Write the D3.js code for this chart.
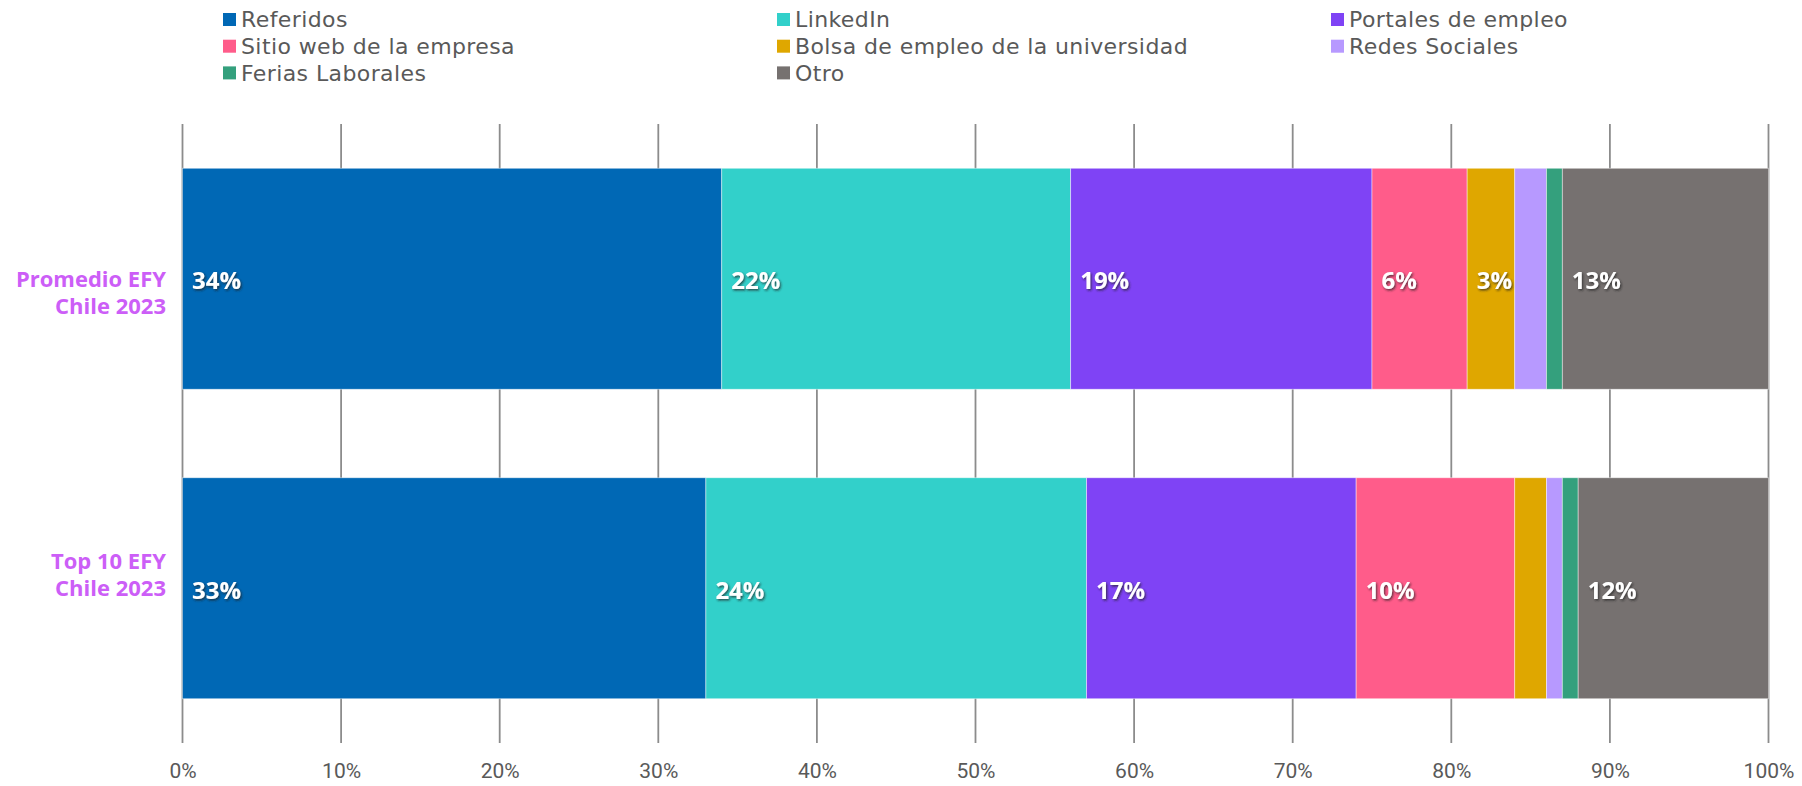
<!DOCTYPE html>
<html>
<head>
<meta charset="utf-8">
<script src="https://d3js.org/d3.v7.min.js"></script>
<style>
  body { margin: 0; background: #fff; }
  text { font-family: "Open Sans", sans-serif; }
</style>
</head>
<body>
<script>
// data
var categories = ['Promedio EFY Chile 2023', 'Top 10 EFY Chile 2023'];
var categoryLines = [['Promedio EFY', 'Chile 2023'], ['Top 10 EFY', 'Chile 2023']];
var seriesNames = ['Referidos', 'LinkedIn', 'Portales de empleo', 'Sitio web de la empresa',
  'Bolsa de empleo de la universidad', 'Redes Sociales', 'Ferias Laborales', 'Otro'];
var promedioValues = [34, 22, 19, 6, 3, 2, 1, 13];
var top10Values = [33, 24, 17, 10, 2, 1, 1, 12];
var seriesColors = ['#0068b5', '#32d0ca', '#7f43f5', '#ff5c8a', '#dfa700', '#b799ff', '#34a07d', '#767170'];
var xTickValues = [0, 10, 20, 30, 40, 50, 60, 70, 80, 90, 100];

var width = 1802,
    height = 786;

var plotLeft = 182.5, plotRight = 1768.5, plotTop = 124, plotBottom = 743;

var svg = d3.select('body').append('svg')
    .attr('width', width)
    .attr('height', height);

var defs = svg.append('defs');
defs.append('filter')
    .attr('id', 'shadow')
    .attr('x', '-20%').attr('y', '-20%')
    .attr('width', '140%').attr('height', '140%')
  .append('feDropShadow')
    .attr('dx', 1.2).attr('dy', 1.5)
    .attr('stdDeviation', 0.9)
    .attr('flood-color', '#222')
    .attr('flood-opacity', 0.75);

// build rows for the stack
var valuesByCategory = [promedioValues, top10Values];
var table = categories.map(function(c, i){
  var row = {category: c};
  seriesNames.forEach(function(s, j){ row[s] = valuesByCategory[i][j]; });
  return row;
});
var stacked = d3.stack().keys(seriesNames)(table);

var x = d3.scaleLinear().domain([0, 100]).range([plotLeft, plotRight]);
var y = d3.scaleBand().domain(categories).range([plotTop, plotBottom])
    .paddingInner(0.286).paddingOuter(0.143);
var color = d3.scaleOrdinal().domain(seriesNames).range(seriesColors);

// gridlines
svg.append('g').selectAll('line')
    .data(xTickValues)
  .enter().append('line')
    .attr('x1', function(d){ return x(d); })
    .attr('x2', function(d){ return x(d); })
    .attr('y1', plotTop)
    .attr('y2', plotBottom)
    .style('stroke', '#8c8c8c')
    .style('stroke-width', 1.8);

// bars
var layers = svg.append('g').selectAll('g')
    .data(stacked)
  .enter().append('g')
    .style('fill', function(d){ return color(d.key); });

layers.selectAll('rect')
    .data(function(d){ return d; })
  .enter().append('rect')
    .attr('x', function(d){ return x(d[0]); })
    .attr('width', function(d){ return x(d[1]) - x(d[0]); })
    .attr('y', function(d){ return y(d.data.category); })
    .attr('height', y.bandwidth())
    .style('stroke', '#fff')
    .style('stroke-opacity', 0.55)
    .style('stroke-width', 0.8);

// value labels (small segments stay unlabeled)
layers.selectAll('text')
    .data(function(d){ return d.filter(function(p){ return p[1] - p[0] >= 3; }); })
  .enter().append('text')
    .attr('x', function(d){ return x(d[0]) + 9.5; })
    .attr('y', function(d){ return y(d.data.category) + y.bandwidth() / 2 + 2; })
    .attr('dy', '0.35em')
    .attr('filter', 'url(#shadow)')
    .style('fill', '#fff')
    .style('font-size', '24px')
    .style('font-weight', 700)
    .text(function(d){ return Math.round(d[1] - d[0]) + '%'; });

// category labels
var lineShift = [0, -1];
var catLabels = svg.append('g').selectAll('text')
    .data(categories)
  .enter().append('text')
    .attr('text-anchor', 'end')
    .style('fill', '#cc5ef7')
    .style('font-size', '22px')
    .style('font-weight', 700);

catLabels.selectAll('tspan')
    .data(function(d, i){
      return categoryLines[i].map(function(t, j){ return {text: t, cat: d, line: j + lineShift[i]}; });
    })
  .enter().append('tspan')
    .attr('x', 166)
    .attr('y', function(d){ return y(d.cat) + y.bandwidth() / 2 + d.line * 27; })
    .attr('dy', '0.36em')
    .text(function(d){ return d.text; });

// x axis labels
var xAxis = d3.axisBottom(x)
    .tickValues(xTickValues)
    .tickSize(0)
    .tickPadding(0)
    .tickFormat(function(d){ return d + '%'; });

var axisG = svg.append('g')
    .attr('transform', 'translate(0,' + 763 + ')')
    .call(xAxis);
axisG.select('.domain').remove();
axisG.selectAll('text')
    .style('font-family', 'Roboto, sans-serif')
    .style('font-size', '21px')
    .style('fill', '#595959');

// legend, three columns
var legend = svg.append('g').selectAll('g')
    .data(seriesNames)
  .enter().append('g')
    .attr('transform', function(d, i){
      return 'translate(' + (223 + (i % 3) * 554) + ',' + (19.5 + Math.floor(i / 3) * 26.7) + ')';
    });

legend.append('rect')
    .attr('x', 0)
    .attr('y', -6.5)
    .attr('width', 13)
    .attr('height', 13)
    .style('fill', function(d){ return color(d); });

legend.append('text')
    .attr('x', 18)
    .attr('dy', '0.35em')
    .style('font-family', '"DejaVu Sans", sans-serif')
    .style('font-size', '22px')
    .style('letter-spacing', '0.4px')
    .style('fill', '#595959')
    .text(function(d){ return d; });
</script>
</body>
</html>
